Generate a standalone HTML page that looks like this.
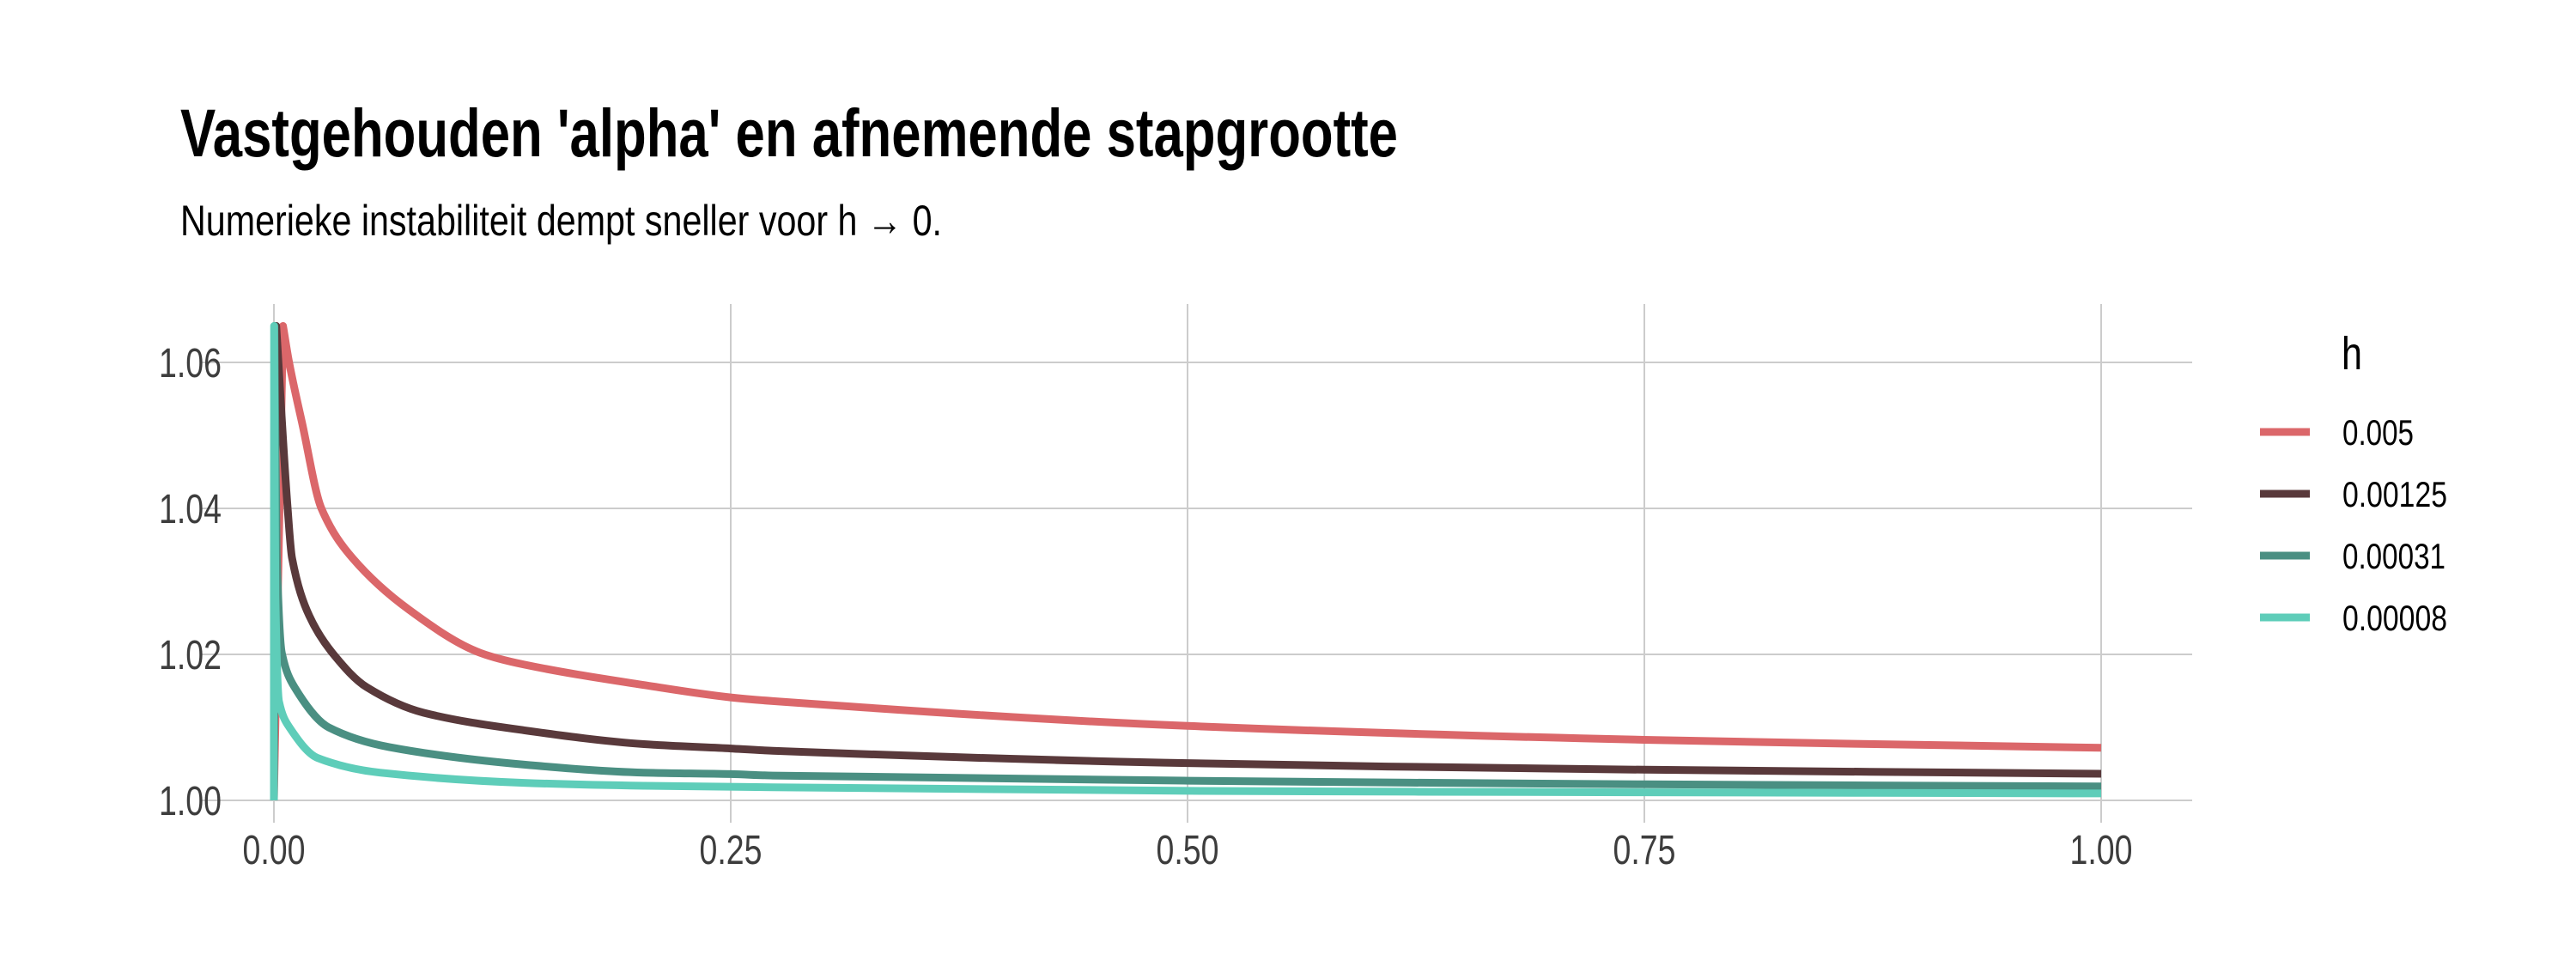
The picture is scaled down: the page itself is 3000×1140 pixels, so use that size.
<!DOCTYPE html>
<html><head><meta charset="utf-8"><style>
html,body{margin:0;padding:0;background:#fff}
svg{display:block;font-family:"Liberation Sans",sans-serif}
</style></head><body>
<svg id="chart" width="3000" height="1140" viewBox="0 0 3000 1140" xmlns="http://www.w3.org/2000/svg">
<rect width="3000" height="1140" fill="#fff"/>
<text x="210" y="182" font-size="79" font-weight="bold" fill="#000" textLength="1418" lengthAdjust="spacingAndGlyphs">Vastgehouden 'alpha' en afnemende stapgrootte</text>
<text x="210" y="274" font-size="50" fill="#000" textLength="887" lengthAdjust="spacingAndGlyphs">Numerieke instabiliteit dempt sneller voor h → 0.</text>
<g id="grid"></g>
<g id="series"></g>
<g id="legend">
<text x="2727" y="430" font-size="54" fill="#000" textLength="24" lengthAdjust="spacingAndGlyphs">h</text>
</g>
</svg>
<script>
const xTicks = [0, 0.25, 0.5, 0.75, 1.0];
const xTickLabels = ["0.00", "0.25", "0.50", "0.75", "1.00"];
const yTicks = [1.00, 1.02, 1.04, 1.06];
const yTickLabels = ["1.00", "1.02", "1.04", "1.06"];
const seriesNames = ["0.005", "0.00125", "0.00031", "0.00008"];
const seriesColors = ["#DB676A", "#59393B", "#4A8F82", "#5ECDB9"];
const xRed = [0, 0.005, 0.0083, 0.0155, 0.026, 0.043, 0.074, 0.113, 0.137, 0.2025, 0.25, 0.273, 0.5, 0.75, 1.0];
const yRed = [1.0, 1.065, 1.060, 1.0516, 1.040, 1.0332, 1.0261, 1.0202, 1.0186, 1.0158, 1.0141, 1.0136, 1.0102, 1.0083, 1.0072];
const xDark = [0, 0.00125, 0.0075, 0.0099, 0.0193, 0.032, 0.0508, 0.082, 0.137, 0.2025, 0.25, 0.273, 0.5, 0.75, 1.0];
const yDark = [1.0, 1.065, 1.040, 1.0332, 1.0253, 1.0202, 1.0155, 1.012, 1.0096, 1.0077, 1.0071, 1.0068, 1.0051, 1.0042, 1.00365];
const xTeal = [0, 0.0003, 0.0015, 0.0043, 0.0113, 0.030, 0.063, 0.137, 0.2025, 0.25, 0.273, 0.5, 0.75, 1.0];
const yTeal = [1.0, 1.065, 1.034, 1.0202, 1.0155, 1.010, 1.0073, 1.0049, 1.0038, 1.0036, 1.0034, 1.0027, 1.0022, 1.0019];
const xLight = [0, 0.00008, 0.0008, 0.0028, 0.0085, 0.024, 0.058, 0.137, 0.2025, 0.273, 0.5, 0.75, 1.0];
const yLight = [1.0, 1.065, 1.028, 1.0135, 1.010, 1.0058, 1.0038, 1.0024, 1.002, 1.0018, 1.0013, 1.0011, 1.00095];

const NS = "http://www.w3.org/2000/svg";
const X0 = 319, X1 = 2447, YB = 932, YT = 422;
function xScale(v){ return X0 + v * (X1 - X0); }
function yScale(v){ return YB - (v - 1.0) / 0.06 * (YB - YT); }
function mk(tag, attrs){ const e = document.createElementNS(NS, tag); for (const k in attrs) e.setAttribute(k, attrs[k]); return e; }

function monotonePath(P){
  const n = P.length;
  if (n < 3) return 'M' + P.map(p => p[0] + ',' + p[1]).join('L');
  const d = [], m = new Array(n);
  for (let i = 0; i < n - 1; i++) { const dx = P[i+1][0] - P[i][0]; d.push(dx === 0 ? 0 : (P[i+1][1] - P[i][1]) / dx); }
  m[0] = d[0]; m[n-1] = d[n-2];
  for (let i = 1; i < n - 1; i++) m[i] = (d[i-1] * d[i] <= 0) ? 0 : 2 / (1 / d[i-1] + 1 / d[i]);
  m[1] = d[1] * 1.0; // keep peak point sharp
  m[0] = d[0]; m[1] = (d[0] * d[1] <= 0) ? d[1] : m[1];
  let s = 'M' + P[0][0].toFixed(1) + ',' + P[0][1].toFixed(1);
  for (let i = 0; i < n - 1; i++) {
    const h = P[i+1][0] - P[i][0];
    if (i === 0) { s += 'L' + P[1][0].toFixed(1) + ',' + P[1][1].toFixed(1); continue; }
    const c1x = P[i][0] + h / 3, c1y = P[i][1] + m[i] * h / 3;
    const c2x = P[i+1][0] - h / 3, c2y = P[i+1][1] - m[i+1] * h / 3;
    s += 'C' + c1x.toFixed(1) + ',' + c1y.toFixed(1) + ' ' + c2x.toFixed(1) + ',' + c2y.toFixed(1) + ' ' + P[i+1][0].toFixed(1) + ',' + P[i+1][1].toFixed(1);
  }
  return s;
}

const grid = document.getElementById('grid');
yTicks.forEach((t, i) => {
  const l = mk('line', {x1:233, x2:2553, y1:yScale(t), y2:yScale(t), stroke:'#cccccc', 'stroke-width':2});
  
  
  grid.appendChild(l);
  const tx = mk('text', {x:258, y:yScale(t)+17, 'font-size':48, fill:'#3d3d3d', 'text-anchor':'end', textLength:73, lengthAdjust:'spacingAndGlyphs'});
  tx.textContent = yTickLabels[i];
  
  
  grid.appendChild(tx);
});
xTicks.forEach((t, i) => {
  const l = mk('line', {x1:xScale(t), x2:xScale(t), y1:354, y2:958, stroke:'#cccccc', 'stroke-width':2});
  
  
  grid.appendChild(l);
  const tx = mk('text', {x:xScale(t), y:1006, 'font-size':48, fill:'#3d3d3d', 'text-anchor':'middle', textLength:73, lengthAdjust:'spacingAndGlyphs'});
  tx.textContent = xTickLabels[i];
  
  
  grid.appendChild(tx);
});

const sg = document.getElementById('series');
const allX = [xRed, xDark, xTeal, xLight];
const allY = [yRed, yDark, yTeal, yLight];
allX.forEach((xs, s) => {
  const ys = allY[s];
  const pts = xs.map((v, j) => [xScale(v), yScale(ys[j])]);
  const p = mk('path', {d:monotonePath(pts), fill:'none', stroke:seriesColors[s], 'stroke-width':9, 'stroke-linejoin':'round', 'stroke-linecap':'butt'});
  
  
  sg.appendChild(p);
});

const lg = document.getElementById('legend');
const labelWidths = [83, 122, 120, 122];
seriesNames.forEach((n, i) => {
  const ky = 503 + i * 72;
  const k = mk('line', {x1:2632, x2:2690, y1:ky, y2:ky, stroke:seriesColors[i], 'stroke-width':9});
  
  
  lg.appendChild(k);
  const t = mk('text', {x:2728, y:ky+15, 'font-size':42, fill:'#000', textLength:labelWidths[i], lengthAdjust:'spacingAndGlyphs'});
  t.textContent = n;
  
  
  lg.appendChild(t);
});
</script>
</body></html>
